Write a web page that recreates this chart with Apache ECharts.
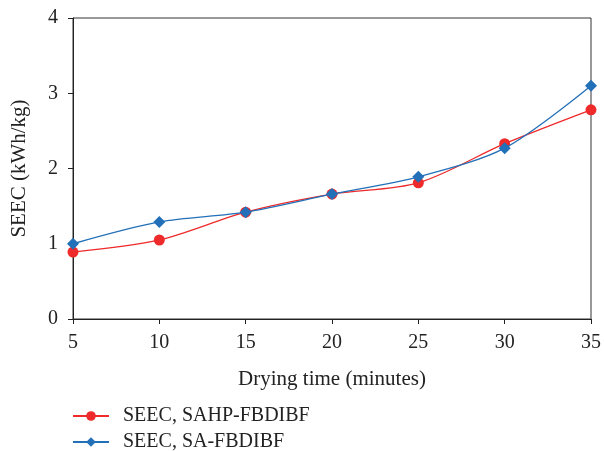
<!DOCTYPE html>
<html>
<head>
<meta charset="utf-8">
<script src="https://cdn.jsdelivr.net/npm/echarts@6/dist/echarts.min.js"></script>
<style>
  html, body { margin: 0; padding: 0; background: #fff; }
  #chart { width: 604px; height: 451px; }
</style>
</head>
<body>
<div id="chart"></div>
<script>
// Drying time (minutes) and specific energy consumption values
const dryingTime = [5, 10, 15, 20, 25, 30, 35];
const seecSAHP = [0.89, 1.05, 1.42, 1.66, 1.81, 2.33, 2.78];
const seecSA = [1.00, 1.29, 1.42, 1.66, 1.89, 2.27, 3.10];
const yTicks = [0, 1, 2, 3, 4];
const seriesNames = ['SEEC, SAHP-FBDIBF', 'SEEC, SA-FBDIBF'];

const font = '"Liberation Serif", "DejaVu Serif", serif';
const textColor = '#222';
const chart = echarts.init(document.getElementById('chart'));

// one legend block per row so each entry sits on its own line
const legendRow = (name, top) => ({
  orient: 'vertical',
  left: 67, top: top,
  itemWidth: 36, itemHeight: 12,
  textStyle: { fontFamily: font, fontSize: 20, color: textColor, padding: [0, 0, 0, 9] },
  data: [name]
});

chart.setOption({
  animation: false,
  grid: {
    left: 73, right: 11, top: 18, bottom: 132,
    show: true, borderColor: '#333', borderWidth: 1
  },
  legend: [legendRow(seriesNames[0], 401), legendRow(seriesNames[1], 427)],
  xAxis: {
    type: 'value',
    min: dryingTime[0], max: dryingTime[dryingTime.length - 1], interval: 5,
    name: 'Drying time (minutes)',
    nameLocation: 'middle', nameGap: 50,
    nameTextStyle: { fontFamily: font, fontSize: 21, color: textColor },
    axisLine: { lineStyle: { color: '#222' } },
    axisTick: { show: true, length: 5, lineStyle: { color: '#222' } },
    axisLabel: { fontFamily: font, fontSize: 20, color: textColor, margin: 14 },
    splitLine: { show: false }
  },
  yAxis: {
    type: 'value',
    min: yTicks[0], max: yTicks[yTicks.length - 1], interval: 1,
    name: 'SEEC (kWh/kg)',
    nameLocation: 'middle', nameGap: 43,
    nameTextStyle: { fontFamily: font, fontSize: 21, color: textColor },
    axisLine: { show: true, lineStyle: { color: '#222' } },
    axisTick: { show: true, length: 5, lineStyle: { color: '#222' } },
    axisLabel: { fontFamily: font, fontSize: 20, color: textColor, margin: 15 },
    splitLine: { show: false }
  },
  series: [
    {
      name: seriesNames[0],
      type: 'line',
      smooth: 0.3,
      symbol: 'circle', symbolSize: 11,
      itemStyle: { color: '#ee2a2a' },
      lineStyle: { color: '#ee2a2a', width: 1.3 },
      data: dryingTime.map((t, i) => [t, seecSAHP[i]]),
      z: 2
    },
    {
      name: seriesNames[1],
      type: 'line',
      smooth: 0.3,
      symbol: 'diamond', symbolSize: 12,
      itemStyle: { color: '#2270b8' },
      lineStyle: { color: '#2270b8', width: 1.3 },
      data: dryingTime.map((t, i) => [t, seecSA[i]]),
      z: 3
    }
  ]
});
</script>
</body>
</html>
